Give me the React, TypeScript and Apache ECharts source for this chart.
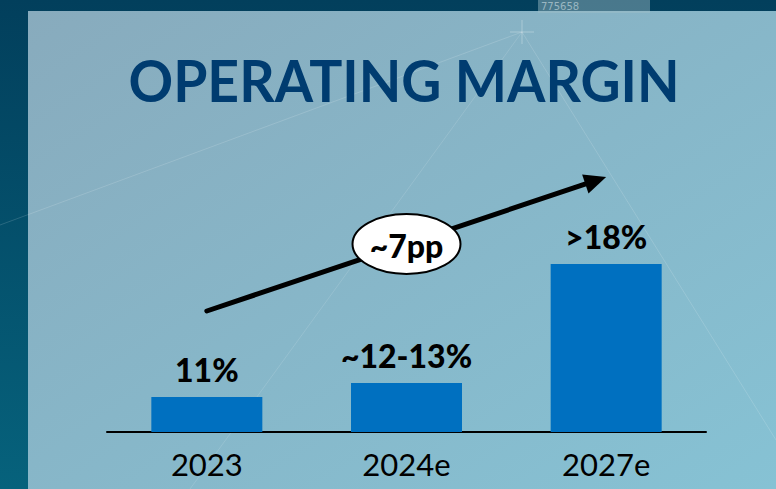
import React, { useEffect, useRef } from "react";
import * as echarts from "echarts";

// Category labels on the x axis
const categories = ["2023", "2024e", "2027e"];
// Bar heights as drawn on the slide (the slide is not drawn to scale)
const drawnHeights = [3.5, 4.9, 16.8];
// Value labels printed above each bar
const valueLabels = ["11%", "~12-13%", ">18%"];
// Trend annotation
const trendLabel = "~7pp";
const chartTitle = "OPERATING MARGIN";
// Arrow from/to, in [category index, axis value]
const arrowFrom = [-0.01, 12.1];
const arrowTo = [1.999, 25.5];

export default function App() {
  const ref = useRef<HTMLDivElement>(null);
  useEffect(() => {
    document.body.style.margin = "0";
    const el = ref.current!;
    const chart = echarts.init(el, null, { renderer: "svg" });
    chart.setOption({
      animation: false,
      backgroundColor: "transparent",
      grid: { left: 107, right: 70, bottom: 57, height: 200, containLabel: false },
      xAxis: {
        type: "category",
        data: categories,
        axisLine: { show: true, lineStyle: { color: "#000", width: 2 } },
        axisTick: { show: false },
        axisLabel: { color: "#000", fontFamily: "Lato", fontSize: 31, margin: 16 },
      },
      yAxis: { type: "value", min: 0, max: 20, show: false, splitLine: { show: false } },
      series: [
        {
          type: "bar",
          data: drawnHeights,
          barWidth: 111,
          z: 3,
          itemStyle: { color: "#0070c0" },
          label: {
            show: true,
            position: "top",
            distance: 12,
            color: "#000",
            fontFamily: "Lato",
            fontWeight: 900,
            fontSize: 32,
            formatter: (p: any) => valueLabels[p.dataIndex],
          },
        },
      ],
    });

    const a = chart.convertToPixel({ gridIndex: 0 }, arrowFrom) as number[];
    const b = chart.convertToPixel({ gridIndex: 0 }, arrowTo) as number[];
    const dx = b[0] - a[0];
    const dy = b[1] - a[1];
    const len = Math.sqrt(dx * dx + dy * dy);
    const ux = dx / len, uy = dy / len;
    const nx = -uy, ny = ux;
    const headLen = 22, headHalf = 10;
    const bx = b[0] - ux * headLen, by = b[1] - uy * headLen;
    const mx = (a[0] + b[0]) / 2, my = (a[1] + b[1]) / 2;
    const W = el.clientWidth, H = el.clientHeight;

    chart.setOption({
      graphic: [
        {
          type: "rect", z: -10, silent: true,
          shape: { x: 0, y: 0, width: W, height: H },
          style: {
            fill: new echarts.graphic.LinearGradient(0, 0, 0, 1, [
              { offset: 0, color: "#023f5c" },
              { offset: 1, color: "#06627c" },
            ]),
          },
        },
        {
          type: "rect", z: -9, silent: true,
          shape: { x: 28, y: 11, width: W - 28, height: H - 11 },
          style: {
            fill: new echarts.graphic.LinearGradient(0, 0, 1, 1, [
              { offset: 0, color: "#88abbd" },
              { offset: 1, color: "#86c2d4" },
            ]),
          },
        },
        { type: "rect", z: -8, silent: true, shape: { x: 538, y: 0, width: 112, height: 13 }, style: { fill: "rgba(160,190,200,0.45)" } },
        { type: "text", z: -7, silent: true, x: 541, y: 1, style: { text: "775658", fill: "rgba(210,225,230,0.6)", font: "10px 'DejaVu Sans'" } },
        { type: "line", z: -8, silent: true, shape: { x1: 0, y1: 225, x2: 522, y2: 32 }, style: { stroke: "rgba(255,255,255,0.15)", lineWidth: 1 } },
        { type: "line", z: -8, silent: true, shape: { x1: 522, y1: 32, x2: 190, y2: 489 }, style: { stroke: "rgba(255,255,255,0.13)", lineWidth: 1 } },
        { type: "line", z: -8, silent: true, shape: { x1: 522, y1: 32, x2: 776, y2: 440 }, style: { stroke: "rgba(255,255,255,0.15)", lineWidth: 1 } },
        { type: "line", z: -8, silent: true, shape: { x1: 522, y1: 20, x2: 522, y2: 44 }, style: { stroke: "rgba(255,255,255,0.3)", lineWidth: 1 } },
        { type: "line", z: -8, silent: true, shape: { x1: 510, y1: 32, x2: 534, y2: 32 }, style: { stroke: "rgba(255,255,255,0.3)", lineWidth: 1 } },
        {
          type: "text", z: 5,
          x: 404, y: 79, scaleX: 0.953,
          style: {
            text: chartTitle,
            fill: "#003c70",
            font: "bold 58px Lato",
            align: "center",
            verticalAlign: "middle",
          },
        },
        {
          type: "line", z: 6,
          shape: { x1: a[0], y1: a[1], x2: bx + ux * 2, y2: by + uy * 2 },
          style: { stroke: "#000", lineWidth: 5, lineCap: "round" },
        },
        {
          type: "polygon", z: 6,
          shape: {
            points: [
              [b[0], b[1]],
              [bx + nx * headHalf, by + ny * headHalf],
              [bx - nx * headHalf, by - ny * headHalf],
            ],
          },
          style: { fill: "#000" },
        },
        {
          type: "ellipse", z: 7,
          shape: { cx: mx, cy: my, rx: 54, ry: 30 },
          style: { fill: "#fff", stroke: "#000", lineWidth: 2 },
        },
        {
          type: "text", z: 8,
          x: mx, y: my + 1,
          style: {
            text: trendLabel,
            fill: "#000",
            font: "900 32px Lato",
            align: "center",
            verticalAlign: "middle",
          },
        },
      ],
    });
    return () => chart.dispose();
  }, []);
  return <div ref={ref} style={{ width: 776, height: 489 }} />;
}
